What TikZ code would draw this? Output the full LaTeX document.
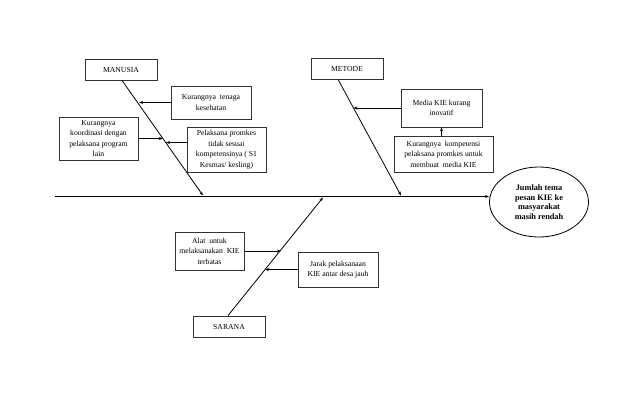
\documentclass[tikz,border=0pt]{standalone}
\usepackage{fontspec}
\setmainfont{Liberation Serif}
\usetikzlibrary{calc,arrows.meta,shapes.geometric}
\begin{document}
\begin{tikzpicture}[x=1pt,y=-1pt,
  box/.style={draw=black!80,line width=0.8pt,align=center,inner sep=1pt,
    font=\fontsize{7.7}{10.5}\selectfont},
  bone/.style={draw=black,line width=0.8pt,-{Stealth[length=4pt,width=3pt]}},
  twig/.style={draw=black,line width=0.7pt,-{Stealth[length=4pt,width=3pt]}}]
\useasboundingbox (0,0) rectangle (638,416);
\node[box,minimum width=72pt,minimum height=21pt] (manusia) at (121,69.5) {MANUSIA};
\node[box,minimum width=80pt,minimum height=33pt] (tenaga) at (211,102.5) {Kurangnya\ \ tenaga\\kesehatan};
\node[box,minimum width=79pt,minimum height=43pt] (koord) at (98.5,138.5) {Kurangnya\\koordinasi\ dengan\\pelaksana\ program\\lain};
\node[box,minimum width=79pt,minimum height=45pt] (pelaksana) at (226.5,149.5) {Pelaksana promkes\\tidak sesuai\\kompetensinya ( S1\\Kesmas/ kesling)};
\node[box,minimum width=72pt,minimum height=21pt] (metode) at (347,68.5) {METODE};
\node[box,minimum width=81pt,minimum height=38pt] (media) at (441.5,108) {Media KIE kurang\\inovatif};
\node[box,minimum width=99pt,minimum height=36pt] (kompetensi) at (443.5,154) {Kurangnya\ \ kompetensi\\pelaksana promkes untuk\\membuat\ \ media KIE};
\node[box,minimum width=69pt,minimum height=38pt] (alat) at (209.5,251) {Alat\ \ untuk\\melaksanakan\ \ KIE\\terbatas};
\node[box,minimum width=80pt,minimum height=35pt] (jarak) at (338,269.5) {Jarak pelaksanaan\\KIE antar desa jauh};
\node[box,minimum width=72pt,minimum height=21pt] (sarana) at (229,326.5) {SARANA};
\node[draw=black,line width=0.8pt,ellipse,minimum width=99pt,minimum height=70pt,inner sep=0pt,align=center,
  font=\fontsize{8.3}{9.6}\selectfont\bfseries] (akibat) at (539,202) {Jumlah tema\\pesan KIE ke\\masyarakat\\masih rendah};
% spine
\coordinate (s0) at (55,196.5);
\draw[line width=1.1pt,-{Stealth[length=4pt,width=3pt]}] (s0) -- (s0 -| akibat.west);
% main bones
\coordinate (m1) at (203,195.5);
\coordinate (k1) at (401,195.5);
\coordinate (r1) at (323,197.5);
\draw[bone] ($(manusia.south)+(1,0)$) -- (m1);
\draw[bone] ($(metode.south)+(-9,0)$) -- (k1);
\draw[bone] ($(sarana.north)+(-1,0)$) -- (r1);
% causes
\coordinate (c1) at (139,102.5);
\coordinate (c2) at (163,138.5);
\coordinate (c3) at (166,142.5);
\coordinate (c4) at (353.5,108);
\coordinate (c5) at (281,251);
\coordinate (c6) at (265,269.5);
\draw[twig] (tenaga.west) -- (c1);
\draw[twig] (koord.east) -- (c2);
\draw[twig] ($(pelaksana.west)+(0,-7)$) -- (c3);
\draw[twig] (media.west) -- (c4);
\draw[twig] (kompetensi.north -| media.south) -- (media.south);
\draw[twig] (alat.east) -- (c5);
\draw[twig] (jarak.west) -- (c6);
\end{tikzpicture}
\end{document}
